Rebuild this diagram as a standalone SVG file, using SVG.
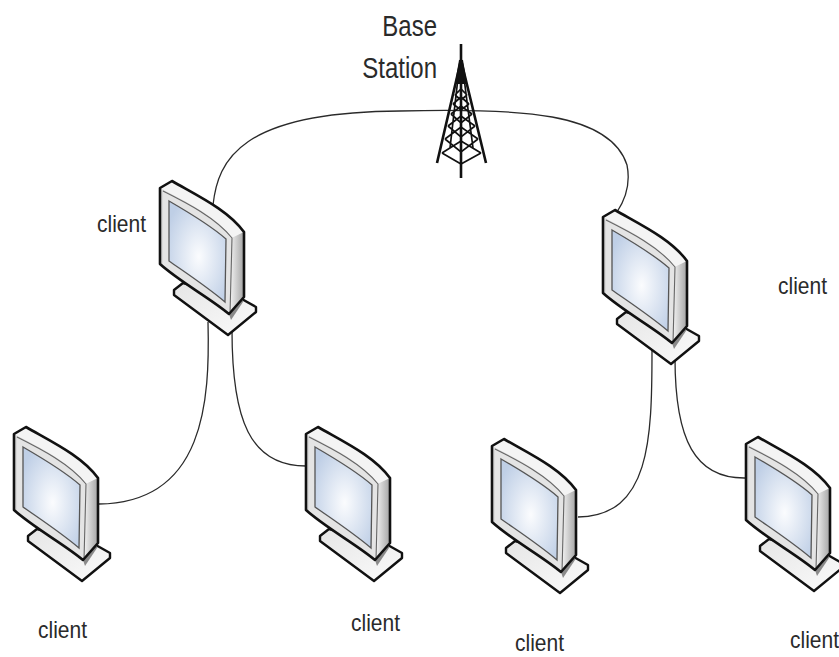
<svg xmlns="http://www.w3.org/2000/svg" width="839" height="657" viewBox="0 0 839 657">
<style>
.t{font-family:"Liberation Sans",Arial,sans-serif;font-size:21px;fill:#2a2a2a}
.b{font-size:24px}
.c{fill:none;stroke:#2a2a2a;stroke-width:1.3}
.tw{fill:none;stroke:#111;stroke-width:1.7}
</style>
<defs>
<linearGradient id="side" x1="0" y1="0" x2="1" y2="0"><stop offset="0" stop-color="#f2f2f2"/><stop offset="1" stop-color="#a4a4a4"/></linearGradient>
<linearGradient id="stand" x1="0" y1="0" x2="1" y2="1"><stop offset="0" stop-color="#e6e6e6"/><stop offset="1" stop-color="#fafafa"/></linearGradient>
<radialGradient id="scr" cx=".52" cy=".55" r=".62"><stop offset="0" stop-color="#fbfcfe"/><stop offset="1" stop-color="#bfcfe6"/></radialGradient>
<g id="mon">
<path d="M43 113L34 120V125L88 165L116 142V137L100 128Z" fill="url(#stand)" stroke="#111" stroke-width="2.4" stroke-linejoin="round"/>
<path d="M89 144L103 127V132L91 150Z" fill="#8a8a8a"/>
<path d="M20 18L32 11C58 26 88 40 104 62V127L89 144C70 128 40 112 20 94Z" fill="#d9d9d9"/>
<path d="M20 18L32 11C58 26 88 40 104 62L92 68C76 46 46 32 20 18Z" fill="#f4f4f4"/>
<path d="M92 68L104 62V127L90 144Z" fill="url(#side)"/>
<path d="M23 21C47 33 76 48 92 68L90 144C70 128 42 112 23 97Z" fill="#e4e4e4"/>
<path d="M23 21C47 33 76 48 92 68L90 144" fill="none" stroke="#666" stroke-width="1.1"/>
<path d="M20 18V94" fill="none" stroke="#888" stroke-width="1"/>
<path d="M29 31C48 42 70 55 86 69L85 132C66 116 46 103 29 91Z" fill="url(#scr)" stroke="#555" stroke-width="1.3"/>
<path d="M20 18L32 11C58 26 88 40 104 62V127L89 144C70 128 40 112 20 94Z" fill="none" stroke="#111" stroke-width="2.6" stroke-linejoin="round"/>
</g>
</defs>
<g id="connectors">
<path class="c" d="M213 205C218 160 240 112 400 111C520 108 610 112 627 165C631 185 625 200 617 212"/>
<path class="c" d="M208 322C210 400 205 503 99 504"/>
<path class="c" d="M232 330C232 420 250 466 306 466"/>
<path class="c" d="M652 350C652 440 650 516 578 517"/>
<path class="c" d="M675 358C675 440 695 479 746 478"/>
</g>
<g id="tower">
<path d="M461 44V178" fill="none" stroke="#111" stroke-width="2.6"/>
<path d="M461 60L437 163M461 60L486 163" fill="none" stroke="#111" stroke-width="2.6"/>
<path d="M459 60H463L467 84H455Z" fill="#111"/>
<path class="tw" d="M458 78L450 148M464 78L473 148M442 153L461 164L481 153M442 153L461 141L481 153M445 139L461 127L478 139M445 139L461 152L478 139M448 126L461 116L475 126M448 126L461 137L475 126M451 114L461 106L472 114M451 114L461 123L472 114M453 104L461 97L469 104M453 104L461 110L469 104M455 95L461 89L467 95M455 95L461 100L467 95"/>
</g>
<g id="client-1"><use href="#mon" x="140" y="170"/><text class="t" transform="translate(97 232) scale(1 1.17)">client</text></g>
<g id="client-2"><use href="#mon" x="583" y="199"/><text class="t" transform="translate(778 294) scale(1 1.17)">client</text></g>
<g id="client-3"><use href="#mon" x="-6" y="416"/><text class="t" transform="translate(38 638) scale(1 1.17)">client</text></g>
<g id="client-4"><use href="#mon" x="286" y="416"/><text class="t" transform="translate(351 631) scale(1 1.17)">client</text></g>
<g id="client-5"><use href="#mon" x="472" y="428"/><text class="t" transform="translate(515 651) scale(1 1.17)">client</text></g>
<g id="client-6"><use href="#mon" x="726" y="426"/><text class="t" transform="translate(790 648) scale(1 1.17)">client</text></g>
<g id="base-station-label"><text class="t b" transform="translate(437 36) scale(1 1.22)" text-anchor="end">Base</text><text class="t b" transform="translate(437 78) scale(1 1.22)" text-anchor="end">Station</text></g>
</svg>
